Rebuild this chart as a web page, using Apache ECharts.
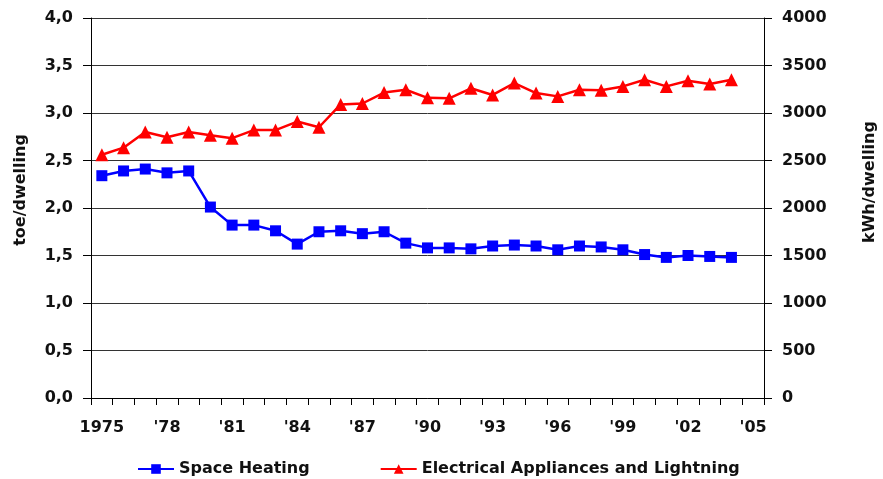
<!DOCTYPE html>
<html>
<head>
<meta charset="utf-8">
<script src="https://cdn.jsdelivr.net/npm/echarts@6/dist/echarts.min.js"></script>
<style>
  html, body { margin: 0; padding: 0; background: #fff; }
  #chart { width: 883px; height: 479px; }
</style>
</head>
<body>
<div id="chart"></div>
<script>
// years on the x axis (2005 is only a label slot, no data)
const years = [];
for (let y = 1975; y <= 2005; y++) years.push(y);

// toe per dwelling, left axis
const spaceHeating = [
  2.34, 2.39, 2.41, 2.37, 2.39, 2.01, 1.82, 1.82, 1.76, 1.62,
  1.75, 1.76, 1.73, 1.75, 1.63, 1.58, 1.58, 1.57, 1.60, 1.61,
  1.60, 1.56, 1.60, 1.59, 1.56, 1.51, 1.48, 1.50, 1.49, 1.48
];

// kWh per dwelling, right axis
const appliances = [
  2560, 2635, 2800, 2745, 2800, 2765, 2735, 2820, 2820, 2910,
  2850, 3090, 3100, 3215, 3245, 3160, 3155, 3260, 3190, 3315,
  3210, 3175, 3245, 3240, 3280, 3350, 3280, 3340, 3305, 3350
];

const font = { fontFamily: 'DejaVu Sans', fontWeight: 'bold', fontSize: 16, color: '#111' };

const chart = echarts.init(document.getElementById('chart'));
chart.setOption({
  animation: false,
  grid: { left: 91, right: 119, top: 18, bottom: 81, outerBoundsMode: 'none' },
  legend: {
    left: 132,
    top: 456,
    itemWidth: 36,
    itemHeight: 12,
    itemGap: 70,
    textStyle: Object.assign({}, font),
    data: ['Space Heating', 'Electrical Appliances and Lightning']
  },
  xAxis: {
    type: 'category',
    data: years,
    boundaryGap: true,
    axisLine: { lineStyle: { color: '#000', width: 1 } },
    axisTick: { show: true, interval: 0, length: 7, lineStyle: { color: '#000' } },
    axisLabel: Object.assign({
      interval: 2,
      margin: 22,
      formatter: v => (v === '1975' || v === 1975) ? '1975' : "'" + String(v).slice(2)
    }, font),
    splitLine: { show: false }
  },
  yAxis: [
    {
      type: 'value',
      min: 0, max: 4, interval: 0.5,
      name: 'toe/dwelling',
      nameLocation: 'middle',
      nameRotate: 90,
      nameGap: 62,
      nameTextStyle: Object.assign({ padding: [0, 0, 0, 36] }, font),
      axisLine: { show: true, lineStyle: { color: '#000' } },
      axisTick: { show: true, length: 8, lineStyle: { color: '#000' } },
      axisLabel: Object.assign({
        margin: 18,
        formatter: v => v.toFixed(1).replace('.', ',')
      }, font),
      splitLine: { show: true, lineStyle: { color: '#333', width: 1 } }
    },
    {
      type: 'value',
      min: 0, max: 4000, interval: 500,
      position: 'right',
      name: 'kWh/dwelling',
      nameLocation: 'middle',
      nameRotate: 90,
      nameGap: 98,
      nameTextStyle: Object.assign({ padding: [0, 0, 0, 52] }, font),
      axisLine: { show: true, lineStyle: { color: '#000' } },
      axisTick: { show: true, length: 8, lineStyle: { color: '#000' } },
      axisLabel: Object.assign({ margin: 18, formatter: v => String(v) }, font),
      splitLine: { show: false }
    }
  ],
  series: [
    {
      name: 'Space Heating',
      type: 'line',
      yAxisIndex: 0,
      data: spaceHeating,
      symbol: 'rect',
      symbolSize: 11,
      color: '#0000ff',
      lineStyle: { color: '#0000ff', width: 2.5 },
      itemStyle: { color: '#0000ff' }
    },
    {
      name: 'Electrical Appliances and Lightning',
      type: 'line',
      yAxisIndex: 1,
      data: appliances,
      symbol: 'triangle',
      symbolSize: 13,
      color: '#ff0000',
      lineStyle: { color: '#ff0000', width: 2.5 },
      itemStyle: { color: '#ff0000' }
    }
  ]
});
</script>
</body>
</html>
